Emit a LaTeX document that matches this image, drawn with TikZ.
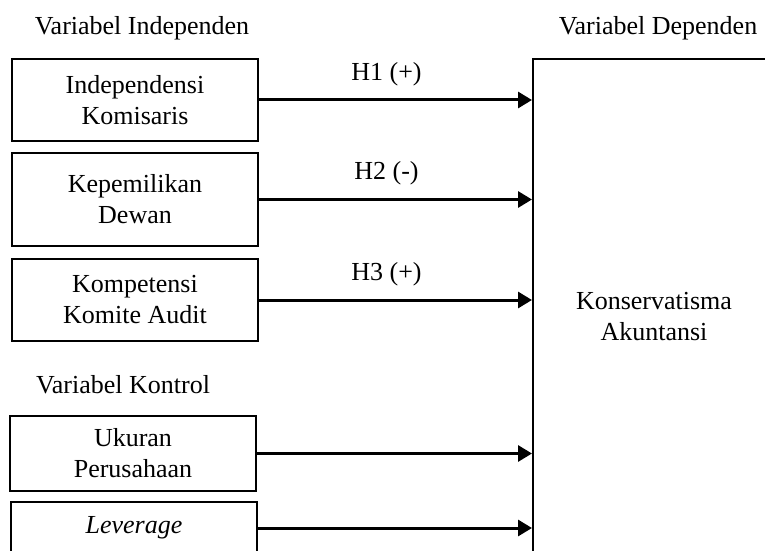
\documentclass[tikz,border=0pt]{standalone}
\usepackage{fontspec}
\setmainfont{Liberation Serif}
\usetikzlibrary{arrows.meta}
\begin{document}
\begin{tikzpicture}
[x=0.5pt,y=-0.5pt,
  boxdecorate/.style={shape=rectangle,draw,line width=1pt,inner sep=0pt,
    align=center,minimum width=123pt,font=\fontsize{13}{15.5}\selectfont},%
  linedecorate/.style={-{Triangle[length=7pt,width=8pt]},line width=1.5pt},%
  textdecorate/.style={font=\fontsize{13}{15.5}\selectfont}]
\clip (0,0) rectangle (765,551);
%% headings
\node (independen) at (142,28) [textdecorate] {Variabel Independen};
\node (dependen) at (658,28) [textdecorate] {Variabel Dependen};
\node (kontrol) at (123,385) [textdecorate] {Variabel Kontrol};
%% boxes on the left
\foreach \nodename/\x/\y/\h/\txt in {
  ik/135/100/41/{Independensi\\Komisaris},
  kd/135/199.5/46.5/{Kepemilikan\\Dewan},
  kka/135/300/41/{Kompetensi\\Komite Audit},
  up/133/453.5/37.5/{Ukuran\\Perusahaan},
  lev/134/528/26/{\textit{Leverage}}}
{
  \node (\nodename) at (\x,\y) [boxdecorate,minimum height=\h pt] {\txt};
}
%% box on the right
\node (ka) at (654,317) [boxdecorate,minimum width=121pt,minimum height=258pt]
  {Konservatisma\\Akuntansi};
%% arrows with hypotheses
\path
\foreach \startnode/\hyp in {ik/H1 (+), kd/H2 (-), kka/H3 (+)} {
  (\startnode.east) edge[linedecorate]
    node[textdecorate,xshift=-4.5pt,yshift=13pt] {\hyp} (\startnode.east -| ka.west)
};
%% arrows of control variables
\path
\foreach \startnode in {up, lev} {
  (\startnode.east) edge[linedecorate] (\startnode.east -| ka.west)
};
\end{tikzpicture}
\end{document}
